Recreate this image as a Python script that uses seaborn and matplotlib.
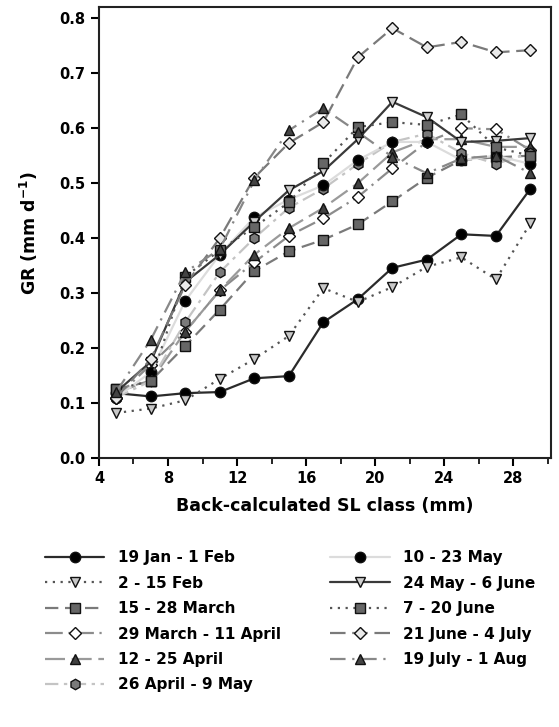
import numpy as np
import pandas as pd
import seaborn as sns
import matplotlib.pyplot as plt
from matplotlib.lines import Line2D
from matplotlib.ticker import MultipleLocator

# SL classes (mm)
sl_class = [5, 7, 9, 11, 13, 15, 17, 19, 21, 23, 25, 27, 29]

# growth rate per cohort (mm d-1)
jan19 = [0.118, 0.112, 0.118, 0.12, 0.145, 0.149, 0.247, 0.289, 0.346, 0.361, 0.407, 0.404, 0.49]
feb2 = [0.082, 0.09, 0.105, 0.144, 0.18, 0.222, 0.309, 0.284, 0.311, 0.348, 0.365, 0.325, 0.427]
mar15 = [0.125, 0.14, 0.204, 0.27, 0.34, 0.376, 0.397, 0.425, 0.467, 0.51, 0.542, 0.547, 0.55]
mar29 = [0.11, 0.17, 0.23, 0.305, 0.356, 0.404, 0.436, 0.475, 0.527, 0.575, 0.60, 0.598, 0.56]
apr12 = [0.12, 0.14, 0.23, 0.305, 0.37, 0.418, 0.455, 0.50, 0.556, 0.58, 0.58, 0.566, 0.566]
apr26 = [0.11, 0.14, 0.247, 0.338, 0.40, 0.455, 0.49, 0.535, 0.575, 0.59, 0.555, 0.535, 0.555]
may10 = [0.11, 0.156, 0.286, 0.37, 0.438, 0.47, 0.496, 0.542, 0.575, 0.575, 0.542, 0.55, 0.535]
may24 = [0.12, 0.175, 0.32, 0.37, 0.43, 0.487, 0.522, 0.58, 0.648, 0.62, 0.575, 0.577, 0.582]
jun7 = [0.125, 0.14, 0.33, 0.378, 0.42, 0.465, 0.536, 0.602, 0.611, 0.606, 0.625, 0.565, 0.55]
jun21 = [0.11, 0.18, 0.315, 0.40, 0.51, 0.573, 0.611, 0.729, 0.782, 0.747, 0.757, 0.738, 0.742]
jul19 = [0.12, 0.215, 0.338, 0.38, 0.505, 0.596, 0.636, 0.593, 0.548, 0.518, 0.545, 0.55, 0.518]

labels = ['19 Jan - 1 Feb', '2 - 15 Feb', '15 - 28 March', '29 March - 11 April',
          '12 - 25 April', '26 April - 9 May', '10 - 23 May', '24 May - 6 June',
          '7 - 20 June', '21 June - 4 July', '19 July - 1 Aug']
series = [jan19, feb2, mar15, mar29, apr12, apr26, may10, may24, jun7, jun21, jul19]

# line colour, line style, marker, marker face
styles = [
    ('#2b2b2b', '-', 'o', '#000000'),
    ('#555555', (0, (1, 2.5)), 'v', '#c8c8c8'),
    ('#7a7a7a', (0, (6, 3)), 's', '#666666'),
    ('#8c8c8c', (0, (8, 2.5, 1, 2.5)), 'D', '#ffffff'),
    ('#9a9a9a', (0, (9, 3)), '^', '#404040'),
    ('#c4c4c4', (0, (6, 2.5, 1.5, 2.5)), 'h', '#7a7a7a'),
    ('#dcdcdc', '-', 'o', '#000000'),
    ('#3a3a3a', '-', 'v', '#d0d0d0'),
    ('#555555', (0, (1, 2.5)), 's', '#666666'),
    ('#7a7a7a', (0, (7, 3)), 'D', '#eaeaea'),
    ('#888888', (0, (7, 3, 1, 3)), '^', '#444444'),
]
sizes = {'o': 7.5, 'v': 7.5, 's': 7, 'D': 6.3, '^': 7.5, 'h': 7.5}

df = pd.DataFrame({'SL': sl_class * len(series),
                   'GR': np.concatenate(series),
                   'cohort': np.repeat(labels, len(sl_class))})

sns.set_style('ticks')
plt.rcParams['font.family'] = ['DejaVu Sans']
plt.rcParams['text.color'] = 'black'
plt.rcParams['axes.labelcolor'] = 'black'

fig = plt.figure(figsize=(5.59, 7.27), dpi=100)
ax = fig.add_axes([0.177, 0.370, 0.809, 0.620])

handles = []
for lab, (col, ls, mk, fc) in zip(labels, styles):
    sub = df[df['cohort'] == lab]
    ms = sizes[mk]
    sns.lineplot(data=sub, x='SL', y='GR', ax=ax, color=col, linestyle=ls, linewidth=1.6,
                 marker=mk, markersize=ms, markerfacecolor=fc, markeredgecolor='#111111',
                 markeredgewidth=1.0, legend=False)
    handles.append(Line2D([], [], color=col, linestyle=ls, linewidth=1.6, marker=mk,
                          markersize=ms, markerfacecolor=fc, markeredgecolor='#111111',
                          markeredgewidth=1.0))

ax.set_xlim(4, 30.2)
ax.set_ylim(0, 0.82)
ax.xaxis.set_major_locator(MultipleLocator(4))
ax.xaxis.set_minor_locator(MultipleLocator(2))
ax.yaxis.set_major_locator(MultipleLocator(0.1))
ax.set_yticklabels([f'{v:.1f}' for v in ax.get_yticks()])
ax.tick_params(axis='both', which='major', direction='out', length=6, width=1.5,
               labelsize=10.5, colors='black')
ax.tick_params(axis='x', which='minor', direction='out', length=4, width=1.2, colors='black')
for lab in ax.get_xticklabels() + ax.get_yticklabels():
    lab.set_fontweight('bold')
for sp in ax.spines.values():
    sp.set_visible(True)
    sp.set_linewidth(1.5)
    sp.set_color('#222222')

ax.set_xlabel('Back-calculated SL class (mm)', fontsize=12.5, fontweight='bold', labelpad=8)
ax.set_ylabel('GR (mm d$^{\\mathbf{-1}}$)', fontsize=12.5, fontweight='bold', labelpad=14)

fig.legend(handles, labels, loc='upper left', bbox_to_anchor=(0.08, 0.243), ncol=2,
           frameon=False, handlelength=3.9, handletextpad=0.9, columnspacing=3.2,
           labelspacing=0.68, borderpad=0, borderaxespad=0,
           prop={'weight': 'bold', 'size': 11})

fig.savefig('out.png', dpi=100)
